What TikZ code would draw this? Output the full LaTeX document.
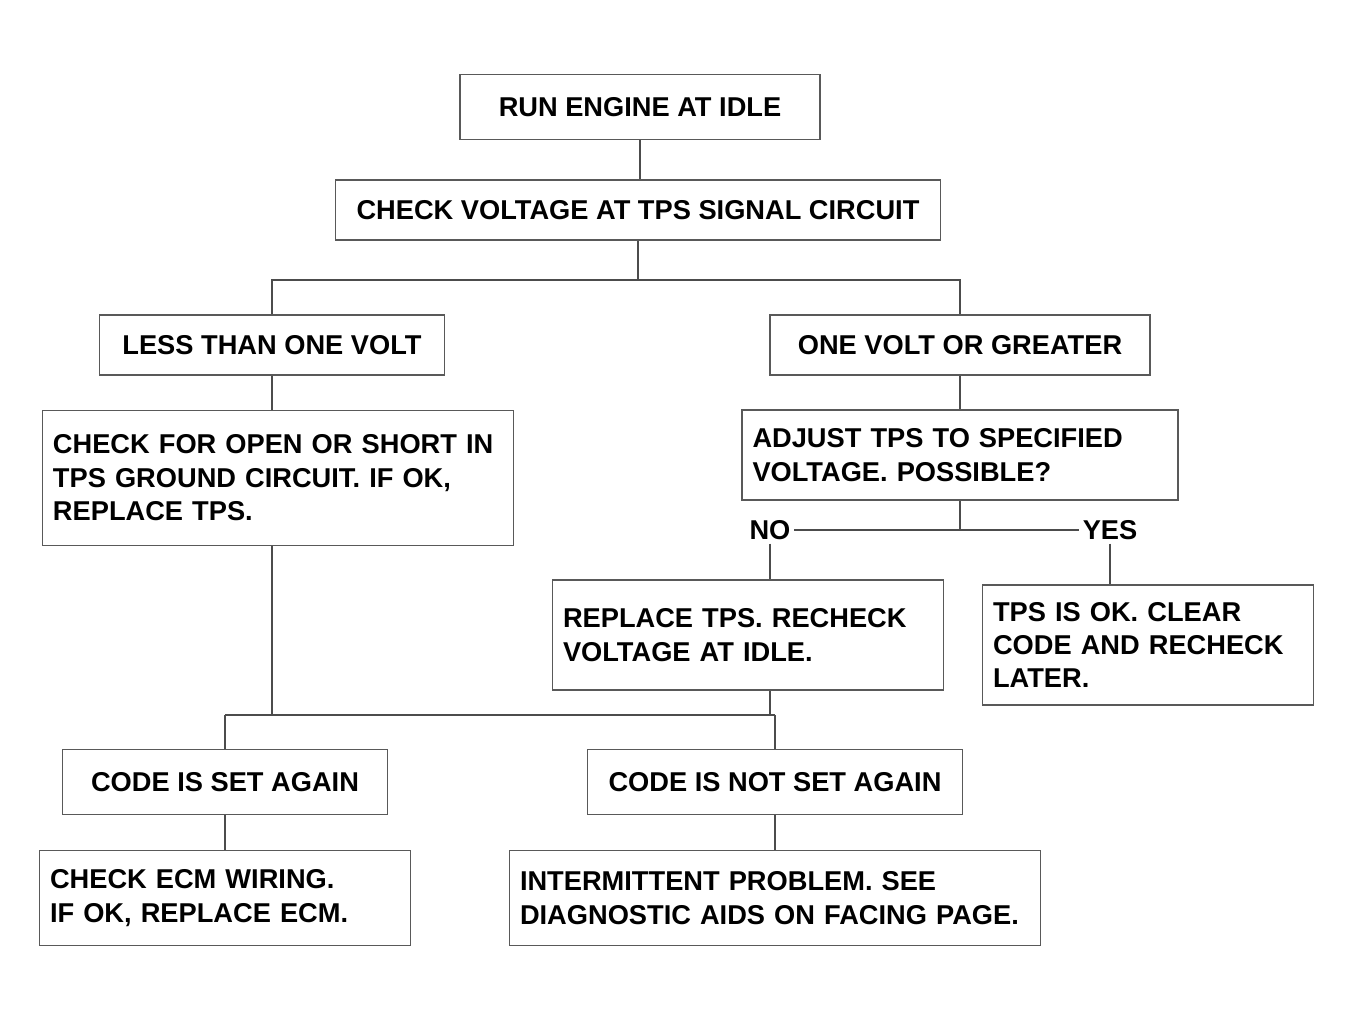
\documentclass[tikz,border=0pt]{standalone}
\usepackage{fontspec}
\setmainfont{Liberation Sans}
\usetikzlibrary{positioning,calc}
\tikzset{>=latex}
\colorlet{boxline}{black!65}
\tikzstyle{box}=[draw=boxline,line width=0.9pt,inner sep=6pt,font=\bfseries\fontsize{15.5}{19}\selectfont,align=left]
\tikzstyle{link}=[line width=1.1pt,draw=black!70]

\begin{document}
\begin{tikzpicture}[
  tag/.style={font=\bfseries\fontsize{15.5}{19}\selectfont,fill=white,inner sep=2pt}
]
\useasboundingbox (0,0) rectangle (27.02,-20.38);

% top of the chart
\node[box,minimum width=7.2cm,minimum height=1.3cm,align=center] (idle) at (12.8,-2.14) {RUN ENGINE AT IDLE};
\node[box,minimum width=12.1cm,minimum height=1.2cm,align=center] (check) at (12.76,-4.2) {CHECK VOLTAGE AT TPS SIGNAL CIRCUIT};

% two readings
\node[box,minimum width=6.9cm,minimum height=1.2cm,align=center] (low) at (5.44,-6.9) {LESS THAN ONE VOLT};
\node[box,minimum width=7.6cm,minimum height=1.2cm,align=center] (high) at (19.2,-6.9) {ONE VOLT OR GREATER};

\node[box,text width=9.0cm,minimum height=2.7cm] (gnd) at (5.56,-9.56)
  {CHECK FOR OPEN OR SHORT IN\\TPS GROUND CIRCUIT. IF OK,\\REPLACE TPS.};
\node[box,text width=8.3cm,minimum height=1.8cm] (adj) at (19.2,-9.1)
  {ADJUST TPS TO SPECIFIED\\VOLTAGE. POSSIBLE?};

% answers
\coordinate (split) at (12.76,-5.6);
\coordinate (ans) at (19.2,-10.6);
\node[tag] (no) at (15.4,-10.6) {NO};
\node[tag] (yes) at (22.2,-10.6) {YES};

\node[box,text width=7.4cm,minimum height=2.2cm] (repl) at (14.96,-12.7)
  {REPLACE TPS. RECHECK\\VOLTAGE AT IDLE.};
\node[box,text width=6.2cm,minimum height=2.4cm] (ok) at (22.96,-12.9)
  {TPS IS OK. CLEAR\\CODE AND RECHECK\\LATER.};

% result of the recheck
\coordinate (merge) at (10.0,-14.3);
\node[box,minimum width=6.5cm,minimum height=1.3cm,align=center] (ret) at (4.5,-15.64) {CODE IS SET AGAIN};
\node[box,minimum width=7.5cm,minimum height=1.3cm,align=center] (nocode) at (15.5,-15.64) {CODE IS NOT SET AGAIN};

\node[box,text width=7.0cm,minimum height=1.9cm] (ecm) at (4.5,-17.96)
  {CHECK ECM WIRING.\\IF OK, REPLACE ECM.};
\node[box,text width=10.2cm,minimum height=1.9cm] (aids) at (15.5,-17.96)
  {INTERMITTENT PROBLEM. SEE\\DIAGNOSTIC AIDS ON FACING PAGE.};

% connectors
\draw[link] (idle.south) -- (idle.south |- check.north);
\draw[link] (check.south) -- (split);
\draw[link] (low.north) |- (split) -| (high.north);
\draw[link] (low.south) -- (low.south |- gnd.north);
\draw[link] (high.south) -- (adj.north);
\draw[link] (adj.south) -- (ans);
\draw[link] (no) -- (yes);
\draw[link] (no) -- (no |- repl.north);
\draw[link] (yes) -- (yes |- ok.north);
\draw[link] (low.south |- gnd.south) -- (low.south |- merge);
\draw[link] (no |- repl.south) -- (no |- merge);
\draw[link] (ret.north |- merge) -- (nocode.north |- merge);
\draw[link] (ret.north |- merge) -- (ret.north);
\draw[link] (nocode.north |- merge) -- (nocode.north);
\draw[link] (ret.south) -- (ecm.north);
\draw[link] (nocode.south) -- (aids.north);
\end{tikzpicture}
\end{document}
